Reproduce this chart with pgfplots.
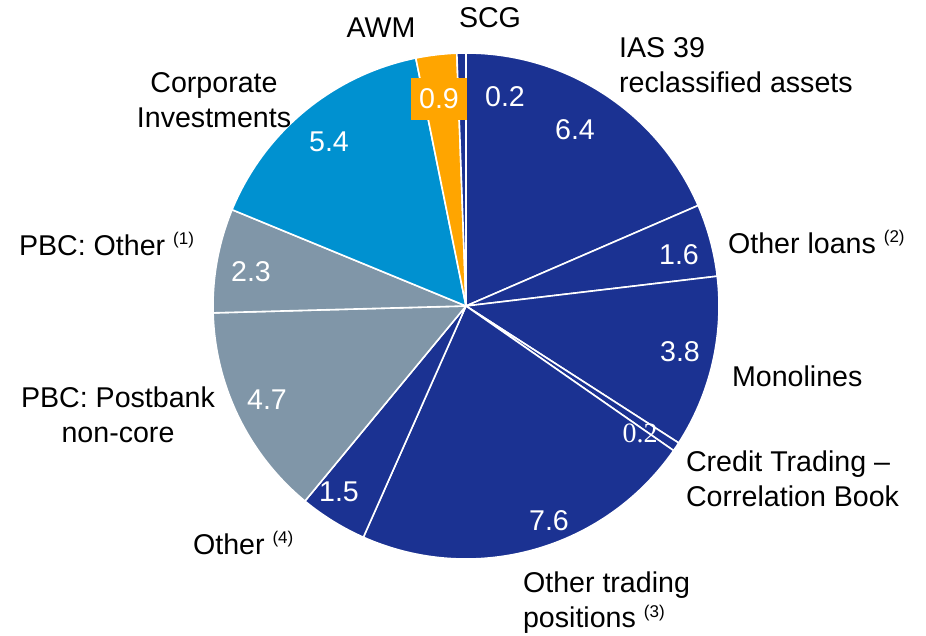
\documentclass[border=0pt]{standalone}
\usepackage{fontspec}
\setmainfont{Liberation Sans}
\newfontfamily\serifnum{Liberation Serif}
\usepackage{pgfplots}
\usepackage{pgfplotstable}
\pgfplotsset{compat=1.18}
\definecolor{dblue}{RGB}{27,50,146}
\definecolor{lblue}{RGB}{0,145,208}
\definecolor{pgray}{RGB}{128,150,168}
\definecolor{porange}{RGB}{255,165,0}

% slices clockwise from 12 o'clock
\pgfplotstableread{
val col
6.4 dblue
1.6 dblue
3.8 dblue
0.2 dblue
7.6 dblue
1.5 dblue
4.7 pgray
2.3 pgray
5.4 lblue
0.9 porange
0.2 dblue
}\pietable

\newcommand{\fnote}[1]{\textsuperscript{\fontsize{8.5}{8.5}\selectfont(#1)}}
\tikzset{lab/.style={font=\fontsize{14.3}{17.5}\selectfont}}

\begin{document}
\begin{tikzpicture}
\begin{axis}[
    hide axis,
    x=0.5pt, y=0.5pt,
    xmin=0, xmax=926,
    ymin=-636, ymax=0,
    clip=false,
]
\coordinate (ctr) at (axis cs:466,-306);
\coordinate (ll) at (axis cs:0,-636);
\coordinate (ur) at (axis cs:926,0);
\end{axis}

% wedges
\pgfplotstablegetrowsof{\pietable}
\pgfmathtruncatemacro\nrows{\pgfplotsretval-1}
\xdef\tot{0}
\foreach \i in {0,...,\nrows}{
  \pgfplotstablegetelem{\i}{val}\of\pietable
  \pgfmathsetmacro\t{\tot+\pgfplotsretval}
  \xdef\tot{\t}
}
\xdef\cum{0}
\foreach \i in {0,...,\nrows}{
  \pgfplotstablegetelem{\i}{val}\of\pietable \let\v\pgfplotsretval
  \pgfplotstablegetelem{\i}{col}\of\pietable \let\c\pgfplotsretval
  \pgfmathsetmacro\aone{90-\cum*360/\tot}
  \pgfmathsetmacro\atwo{90-(\cum+\v)*360/\tot}
  \fill[\c, draw=white, line width=0.8pt, line join=round]
    (ctr) -- ++(\aone:126.5pt) arc[start angle=\aone, end angle=\atwo, radius=126.5pt] -- cycle;
  \pgfmathsetmacro\nc{\cum+\v}
  \xdef\cum{\nc}
}

\begin{axis}[
    hide axis,
    x=0.5pt, y=0.5pt,
    xmin=0, xmax=926,
    ymin=-636, ymax=0,
    clip=false,
]
% values
\node[lab, white] at (axis cs:505,-97) {0.2};
\node[lab, white] at (axis cs:575,-130) {6.4};
\node[lab, white] at (axis cs:679,-255) {1.6};
\node[lab, white] at (axis cs:680,-352) {3.8};
\node[white, font=\serifnum\fontsize{14}{17.5}\selectfont] at (axis cs:640,-433) {0.2};
\node[lab, white] at (axis cs:549,-521) {7.6};
\node[lab, white] at (axis cs:339,-492) {1.5};
\node[lab, white] at (axis cs:267,-400) {4.7};
\node[lab, white] at (axis cs:251,-272) {2.3};
\node[lab, white] at (axis cs:329,-142) {5.4};
\node[lab, white, fill=porange, inner sep=0pt, minimum width=28pt, minimum height=21pt] at (axis cs:439,-99) {0.9};
% category labels
\node[lab] at (axis cs:490,-18) {SCG};
\node[lab] at (axis cs:381,-28) {AWM};
\node[lab, align=center] at (axis cs:214,-100) {Corporate\\Investments};
\node[lab, anchor=west] at (axis cs:12,-244) {PBC: Other \fnote{1}};
\node[lab, align=center] at (axis cs:118,-415) {PBC: Postbank\\non-core};
\node[lab, anchor=west] at (axis cs:186,-543) {Other \fnote{4}};
\node[lab, anchor=west, align=left] at (axis cs:516,-603) {Other trading\\positions \fnote{3}};
\node[lab, anchor=west, align=left] at (axis cs:679,-479) {Credit Trading --\\Correlation Book};
\node[lab, anchor=west] at (axis cs:725,-376) {Monolines};
\node[lab, anchor=west] at (axis cs:721,-242) {Other loans \fnote{2}};
\node[lab, anchor=west, align=left] at (axis cs:612,-65) {IAS 39\\reclassified assets};
\end{axis}
\pgfresetboundingbox
\path[use as bounding box] (ll) rectangle (ur);
\end{tikzpicture}
\end{document}
